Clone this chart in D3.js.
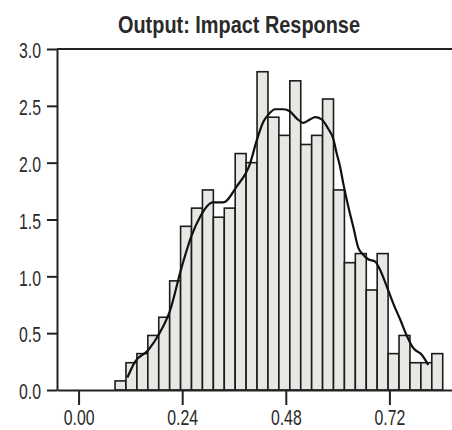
<!DOCTYPE html>
<html>
<head>
<meta charset="utf-8">
<script src="https://cdn.jsdelivr.net/npm/d3@7"></script>
<style>
  body { margin: 0; background: #fff; }
  text { font-family: "Liberation Sans", Arial, sans-serif; fill: #2a2a2a; }
</style>
</head>
<body>
<svg id="chart" width="452" height="430"></svg>
<script>
// histogram bins (density per bin)
const binStart = 0.0845;
const binWidth = 0.0253;
const densities = [0.08, 0.24, 0.32, 0.48, 0.64, 0.96, 1.44, 1.60, 1.76, 1.52,
                   1.60, 2.08, 2.00, 2.80, 2.40, 2.24, 2.72, 2.16, 2.24, 2.56,
                   1.76, 1.12, 1.20, 0.88, 1.20, 0.32, 0.48, 0.24, 0.24, 0.32];

// smoothed density curve
const kdeX = [0.113, 0.131, 0.161, 0.186, 0.212, 0.238, 0.262, 0.281, 0.311, 0.335,
              0.366, 0.397, 0.413, 0.428, 0.439, 0.455, 0.474, 0.490, 0.505, 0.521,
              0.536, 0.548, 0.563, 0.578, 0.590, 0.598, 0.606, 0.613, 0.625, 0.636,
              0.648, 0.657, 0.671, 0.687, 0.698, 0.714, 0.729, 0.745, 0.760, 0.775,
              0.795, 0.810];
const kdeY = [0.11, 0.25, 0.35, 0.49, 0.70, 1.07, 1.36, 1.52, 1.65, 1.65,
              1.79, 1.99, 2.20, 2.36, 2.42, 2.47, 2.47, 2.45, 2.39, 2.35,
              2.38, 2.40, 2.38, 2.30, 2.21, 2.08, 1.96, 1.82, 1.61, 1.44,
              1.25, 1.20, 1.15, 1.13, 1.06, 0.91, 0.76, 0.62, 0.48, 0.37,
              0.31, 0.22];

const yTicks = [0, 0.5, 1.0, 1.5, 2.0, 2.5, 3.0];
const xTicks = [0, 0.24, 0.48, 0.72];
const title = "Output: Impact Response";

const svg = d3.select("#chart");
const m = {left: 57, top: 49, bottom: 390, right: 452};

const x = d3.scaleLinear().domain([-0.05, 0.865]).range([m.left, m.right]);
const y = d3.scaleLinear().domain([0, 3]).range([m.bottom, m.top]);

// bars
const bins = densities.map((d, i) => ({x0: binStart + i * binWidth, x1: binStart + (i + 1) * binWidth, d: d}));
svg.append("g").selectAll("rect")
  .data(bins)
  .enter().append("rect")
  .attr("x", b => x(b.x0))
  .attr("y", b => y(b.d))
  .attr("width", b => x(b.x1) - x(b.x0))
  .attr("height", b => y(0) - y(b.d))
  .attr("fill", "#e7e8e3")
  .attr("stroke", "#1c1c1c")
  .attr("stroke-width", 1.6);

// density line
const pts = kdeX.map((v, i) => [v, kdeY[i]]);
svg.append("path")
  .datum(pts)
  .attr("fill", "none")
  .attr("stroke", "#111")
  .attr("stroke-width", 2.2)
  .attr("d", d3.line().x(p => x(p[0])).y(p => y(p[1])).curve(d3.curveMonotoneX));

// top line of the frame
svg.append("line")
  .attr("x1", m.left).attr("x2", m.right)
  .attr("y1", m.top).attr("y2", m.top)
  .attr("stroke", "#222").attr("stroke-width", 2);

// axes
const yAxis = svg.append("g")
  .attr("transform", "translate(" + m.left + ",0)")
  .call(d3.axisLeft(y).tickValues(yTicks).tickFormat(d3.format(".1f")).tickSize(10).tickSizeOuter(0).tickPadding(6));

const xAxis = svg.append("g")
  .attr("transform", "translate(0," + m.bottom + ")")
  .call(d3.axisBottom(x).tickValues(xTicks).tickFormat(d3.format(".2f")).tickSize(15).tickSizeOuter(0).tickPadding(4));

[yAxis, xAxis].forEach(g => {
  g.select(".domain").attr("stroke", "#222").attr("stroke-width", 2);
  g.selectAll(".tick line").attr("stroke", "#222").attr("stroke-width", 2);
  g.selectAll(".tick text")
    .attr("fill", "#2a2a2a")
    .style("font-size", "22px")
    .style("font-family", null)
    .each(function() {
      // narrow the glyphs like the original condensed face
      const w = this.getComputedTextLength();
      d3.select(this).attr("textLength", w * 0.72).attr("lengthAdjust", "spacingAndGlyphs");
    });
});
yAxis.selectAll(".tick text").attr("dy", "0.4em");

// title
svg.append("text")
  .attr("x", 118)
  .attr("y", 33)
  .attr("textLength", 242)
  .attr("lengthAdjust", "spacingAndGlyphs")
  .style("font-size", "24px")
  .style("font-weight", "bold")
  .text(title);
</script>
</body>
</html>
